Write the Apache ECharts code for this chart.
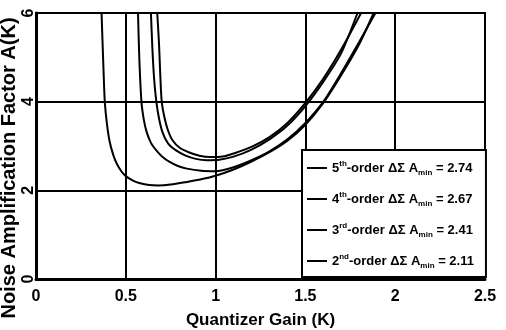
<!DOCTYPE html>
<html>
<head>
<meta charset="utf-8">
<script src="https://cdn.jsdelivr.net/npm/echarts@6/dist/echarts.min.js"></script>
<style>
  html, body { margin: 0; padding: 0; background: #fff; }
  #container { width: 506px; height: 330px; }
</style>
</head>
<body>
<div id="container"></div>
<script>
var dom = document.getElementById("container");
var myChart = echarts.init(dom);

// curves: [K, A(K)]
var order5 = [[0.675, 6], [0.685, 5.3], [0.692, 4.6], [0.70, 4.0], [0.715, 3.65], [0.735, 3.35], [0.76, 3.13], [0.8, 2.96],
    [0.85, 2.86], [0.91, 2.78], [0.97, 2.75], [1.05, 2.77], [1.1, 2.83], [1.2, 2.98], [1.3, 3.2], [1.4, 3.52],
    [1.5, 3.97], [1.6, 4.52], [1.7, 5.18], [1.81, 6]];
var order4 = [[0.64, 6], [0.648, 5.2], [0.658, 4.5], [0.67, 4.0], [0.685, 3.62], [0.705, 3.3], [0.735, 3.06], [0.78, 2.9],
    [0.83, 2.79], [0.89, 2.71], [0.95, 2.68], [1.02, 2.69], [1.1, 2.76], [1.2, 2.92], [1.3, 3.15], [1.4, 3.46],
    [1.5, 3.9], [1.6, 4.45], [1.7, 5.1], [1.79, 6]];
var order3 = [[0.568, 6], [0.575, 5], [0.587, 4], [0.6, 3.6], [0.615, 3.33], [0.64, 3.07], [0.67, 2.9], [0.7, 2.77],
    [0.744, 2.64], [0.79, 2.55], [0.84, 2.49], [0.92, 2.44], [1.0, 2.43], [1.1, 2.52], [1.2, 2.68], [1.3, 2.88],
    [1.4, 3.15], [1.5, 3.52], [1.6, 4.0], [1.7, 4.65], [1.8, 5.35], [1.89, 6]];
var order2 = [[0.365, 6], [0.37, 5.4], [0.376, 4.7], [0.383, 4.0], [0.395, 3.5], [0.41, 3.1], [0.43, 2.8], [0.45, 2.6],
    [0.475, 2.43], [0.5, 2.32], [0.54, 2.22], [0.58, 2.16], [0.63, 2.12], [0.68, 2.11], [0.75, 2.13], [0.84, 2.19],
    [0.92, 2.25], [1.0, 2.33], [1.1, 2.47], [1.2, 2.65], [1.3, 2.86], [1.4, 3.12], [1.5, 3.48], [1.6, 3.97],
    [1.7, 4.6], [1.8, 5.3], [1.88, 6]];

var seriesNames = ['5th', '4th', '3rd', '2nd'];
var orderNums = ['5', '4', '3', '2'];
var orderSups = ['th', 'th', 'rd', 'nd'];
var aMin = ['2.74', '2.67', '2.41', '2.11'];
var curves = [order5, order4, order3, order2];

var xLabel = 'Quantizer Gain (K)';
var yLabel = 'Noise Amplification Factor A(K)';

var font = '"Liberation Sans", Arial, sans-serif';

var series = [];
for (var i = 0; i < curves.length; i++) {
    series.push({
        name: seriesNames[i],
        type: 'line',
        data: curves[i],
        smooth: 0.25,
        showSymbol: false,
        symbol: 'none',
        lineStyle: { color: '#000', width: 2 },
        itemStyle: { color: '#000' }
    });
}

var option = {
    animation: false,
    backgroundColor: '#fff',
    grid: {
        left: 36, right: 21, top: 13, bottom: 51,
        containLabel: false,
        outerBoundsMode: 'none',
        show: true, borderColor: '#000', borderWidth: 2
    },
    legend: {
        data: seriesNames,
        orient: 'vertical',
        left: 302,
        top: 150,
        padding: [8, 12, 6, 5],
        itemGap: 11,
        itemWidth: 20,
        itemHeight: 2,
        icon: 'rect',
        backgroundColor: '#fff',
        borderColor: '#000',
        borderWidth: 2,
        borderRadius: 0,
        formatter: function (name) {
            var k = seriesNames.indexOf(name);
            return '{n|' + orderNums[k] + '}{s|' + orderSups[k] + '}{n|-order \u0394\u03A3 A}{b|min}{n| = ' + aMin[k] + '}';
        },
        textStyle: {
            color: '#000',
            fontFamily: font,
            fontWeight: 'bold',
            fontSize: 13,
            lineHeight: 20,
            rich: {
                n: { fontFamily: font, fontWeight: 'bold', fontSize: 13, lineHeight: 20, color: '#000' },
                s: { fontFamily: font, fontWeight: 'bold', fontSize: 8, lineHeight: 20, padding: [0, 0, 8, 0], color: '#000' },
                b: { fontFamily: font, fontWeight: 'bold', fontSize: 8, lineHeight: 20, padding: [9, 0, 0, 0], color: '#000' }
            }
        }
    },
    xAxis: {
        type: 'value',
        min: 0, max: 2.5, interval: 0.5,
        name: xLabel,
        nameLocation: 'middle',
        nameGap: 33,
        nameMoveOverlap: false,
        nameTextStyle: { color: '#000', fontFamily: font, fontWeight: 'bold', fontSize: 17 },
        axisLine: { show: true, onZero: false, lineStyle: { color: '#000', width: 3 } },
        axisTick: { show: false },
        axisLabel: { color: '#000', fontFamily: font, fontWeight: 'bold', fontSize: 16, margin: 10 },
        splitLine: { show: true, lineStyle: { color: '#000', width: 2 } }
    },
    yAxis: {
        type: 'value',
        min: 0, max: 6, interval: 2,
        name: yLabel,
        nameLocation: 'middle',
        nameGap: 17,
        nameRotate: 90,
        nameMoveOverlap: false,
        nameTextStyle: { color: '#000', fontFamily: font, fontWeight: 'bold', fontSize: 20, lineHeight: 20, padding: [0, 44, 0, 0] },
        axisLine: { show: true, onZero: false, lineStyle: { color: '#000', width: 3 } },
        axisTick: { show: false },
        axisLabel: { color: '#000', fontFamily: font, fontWeight: 'bold', fontSize: 16, lineHeight: 12, rotate: 90, margin: 1 },
        splitLine: { show: true, lineStyle: { color: '#000', width: 2 } }
    },
    series: series
};

myChart.setOption(option);
</script>
</body>
</html>
